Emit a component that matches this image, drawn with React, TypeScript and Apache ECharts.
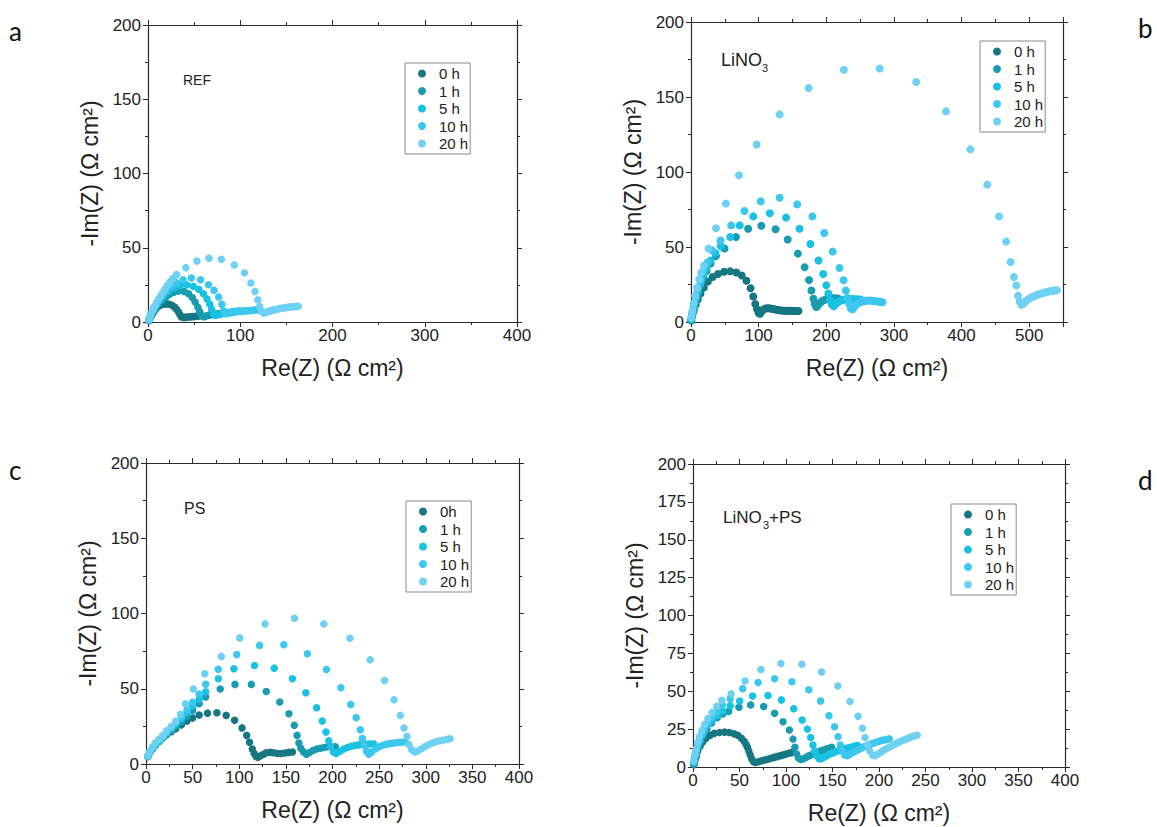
import React, { useEffect, useRef } from "react";
import * as echarts from "echarts";

// ---------- shared labels ----------
const namesStd = ["0 h", "1 h", "5 h", "10 h", "20 h"];
const namesPS = ["0h", "1 h", "5 h", "10 h", "20 h"];
const seriesColors = ["#167783", "#1a9cb0", "#19c1e3", "#3cc7ee", "#6fd1f2"];
const xTitle = "Re(Z) (Ω cm²)";
const yTitle = "-Im(Z) (Ω cm²)";

// ---------- panel a : REF ----------
const aH0 = [[1,0.8],[2,2.5],[4,4.5],[6,6.5],[8,8.5],[11,10.3],[14,11.5],[17,12],[20,12.2],[23,12],[26,11.2],[29,10],[31,8.5],[33,6.8],[34.5,5],[36,3.6],[38,3],[40,3.1],[42,3.3],[44,3.4],[46,3.5],[48,3.6],[50,3.7],[52,3.8],[54,4],[56,4.2]];
const aH1 = [[1,1.2],[3,4],[5,6.5],[8,9.5],[11,12],[15,14.5],[19,16.5],[23,18.5],[28,20],[33,20.8],[39,20.5],[44,19],[48,16.5],[51,13.5],[54,10],[56,7],[58,4.5],[60,3.5],[62,3.8],[64,4.2],[66,4.5],[68,4.8],[70,5],[72,5.2],[74,5.4],[76,5.5],[78,5.6],[80,5.7]];
const aH5 = [[1,1.5],[3,4.5],[6,8],[9,11],[13,14.5],[17,17.5],[22,20.5],[28,23],[35,24.5],[42,25],[49,24],[55,22],[60,19],[64,15.5],[67,12],[69,8.5],[71,5.5],[73,4.5],[75,4.8],[77,5.1],[79,5.4],[81,5.7],[83,6],[85,6.2],[87,6.4],[89,6.6],[91,6.8],[93,7],[95,7.1],[97,7.2],[99,7.3]];
const aH10 = [[1,2],[3,5.5],[6,9.5],[10,13.5],[14,17],[19,20.5],[25,24],[31,26.5],[38,28.5],[47,29.6],[57,28.5],[65.5,25.1],[71.5,21.3],[76.5,16.8],[80,12],[82,7.5],[84,5.5],[86,5.7],[88,6],[90,6.3],[92,6.5],[94,6.7],[96,6.9],[98,7.1],[100,7.2],[102,7.3],[104,7.4],[106,7.5],[108,7.6],[110,7.7],[112,7.8],[114,7.9],[116,8],[118,8.1],[120,8.2]];
const aH20 = [[1,1.5],[2.2,3.8],[4,6.2],[5.8,8.5],[7.5,10.8],[9.4,13],[11.5,15.3],[13.7,17.5],[16,19.8],[18.4,22],[21,24.5],[23.8,27],[27,29.5],[31,32],[41,36.6],[53,41],[66,43],[79.5,42.2],[93.5,38.4],[104.5,33.2],[111.5,26.3],[116,20.6],[119,15],[121,10.5],[123,7.5],[125,6],[127,6.3],[129,6.8],[131,7.2],[133,7.6],[135,8],[137,8.3],[139,8.6],[141,8.9],[143,9.1],[145,9.3],[147,9.5],[149,9.7],[151,9.9],[153,10],[155,10.2],[157,10.3],[159,10.4],[161,10.5],[163,10.6]];

// ---------- panel b : LiNO3 ----------
const bH0 = [[0.5,1],[2,4],[4,7.5],[7,11.5],[10,15],[14,19],[19,23],[25,27],[32,30],[40,32],[49,33.5],[58,33.8],[67,33],[75,31],[82,27.5],[88,22.5],[92,17],[95,12],[97.5,8.5],[100,6],[102,5.5],[104,6.8],[106,8],[109,8.8],[112,9.2],[115,9.2],[118,9],[121,8.7],[124,8.4],[127,8.1],[130,7.9],[133,7.7],[136,7.6],[139,7.5],[142,7.5],[145,7.4],[148,7.4],[151,7.4],[154,7.3],[157,7.3],[159,7.3]];
const bH1 = [[0.5,1.5],[2,5],[4,9],[7,14],[10,19],[14,24],[18,29],[23,34],[29,39],[37,44],[49.5,49],[66.5,56.7],[84.5,62.2],[104,64.2],[125,61.8],[143,55],[158,45.6],[168,36.5],[174.5,28],[178,21],[181,15.5],[183,12],[185,10],[187,10.5],[189,12],[191,13],[194,14],[197,14.7],[200,15.2],[203,15.5],[206,15.7],[209,15.8],[212,15.8],[215,15.7],[218,15.6]];
const bH5 = [[0.5,2],[2,5.5],[4,10],[7,15.5],[10,20.5],[14,26],[18,31],[23,36],[29,41],[36,46],[44,50.5],[58,56.7],[72,64.4],[92,70.4],[116.5,72.5],[140.5,69.6],[160.5,62.2],[176.5,52],[188.5,41],[195.5,32],[200,24.5],[203,19],[206,14.5],[208.5,11.5],[211,10.5],[213,11.5],[215,12.5],[218,13.5],[221,14.2],[224,14.7],[227,15],[230,15.2],[233,15.3],[236,15.3],[239,15.3],[242,15.2],[245,15.1],[248,15],[251,14.9]];
const bH10 = [[0.5,2.5],[2,6.5],[4,11],[7,17],[10,22.5],[14,28],[19,34],[24,39.5],[30.7,47.8],[43.6,54.4],[59.4,64.4],[79,74],[103,80.4],[131,82.8],[157,78.4],[179.5,70.4],[197,59.3],[209.5,47],[219.5,36],[225.5,27.8],[229,21],[231.5,16],[234,12],[236.5,9],[239,8.5],[241.5,10],[244,11.5],[247,12.5],[250,13.2],[253,13.7],[256,14],[259,14.2],[262,14.3],[265,14.3],[268,14.2],[271,14],[274,13.8],[277,13.6],[280,13.4],[283,13.2]];
const bH20 = [[0.5,3],[2,7.5],[4,12.5],[6,17.5],[9,23],[12,28.5],[15,33],[19,37.5],[26,48.9],[37,62.5],[51.5,79],[71,97.8],[97,118.3],[131,138.4],[174,156],[226,168.2],[279,169],[333,160],[377,140.4],[413,115.1],[438,91.6],[455.5,70.4],[466,53.6],[472.5,40],[477.5,30],[481,24.4],[483.5,17.5],[486,13.5],[488.5,11.5],[491,12],[494,13.5],[497,14.6],[500,15.5],[503,16.3],[506,17],[509,17.6],[512,18.1],[515,18.6],[518,19],[521,19.4],[524,19.8],[527,20.1],[530,20.4],[533,20.7],[536,20.9],[539,21.1],[541,21.2]];

// ---------- panel c : PS ----------
const cH0 = [[2,5],[4,7.5],[7,10],[10,12.5],[14,15],[18,17.5],[22,19.5],[27,21.5],[32,23.5],[38,26],[44,28.5],[50,30.5],[57,32.5],[66,33.8],[76,34.1],[86,32.3],[95,29],[103,24],[108,19],[111,14.5],[114,10],[116,7],[118,5],[120,4.5],[123,5.5],[126,6.5],[129,7.5],[133,7.8],[137,7.5],[141,7],[145,7],[149,7.3],[153,7.7],[157,8]];
const cH1 = [[2,5],[4,7.5],[7,10],[10,12.5],[14,15],[18,17.5],[22,20],[27,22.5],[32,25],[38,28],[44,31.5],[50,35.5],[57,40],[64,44.5],[79.6,49.8],[95.4,52.9],[113,52.9],[129,48.2],[143.4,41.2],[153.3,33.4],[159,25.7],[162,19],[164,14],[166,10.5],[169,8],[172,6.5],[175,7.5],[179,9],[183,10],[187,10.5],[191,11],[195,11.5],[199,11.5],[203,11.5]];
const cH5 = [[2,5.5],[4,8],[7,10.5],[10,13],[14,15.5],[18,18],[22,20.5],[27,23.5],[32,26.5],[38,30],[44,34],[50,38.5],[57,43],[64,48],[77.6,56.6],[94.2,63.3],[116.3,65.5],[137.5,63.7],[157,56.6],[171.4,47.3],[183,37.4],[189,28.5],[193,21.2],[196,15.5],[198,11.5],[201,8],[204,7],[208,8.5],[212,10],[216,11],[220,11.8],[224,12.3],[228,12.7],[232,13],[236,13.2],[240,13.3],[244,13.4]];
const cH10 = [[2,5.5],[4,8],[7,11],[10,13.5],[14,16],[18,18.5],[22,21],[27,24],[32,27.5],[38,31.5],[44,36],[50,41],[57,46.5],[64,53],[77.6,63],[97.3,72.8],[121.8,78.8],[147.8,79.2],[173,73.2],[193.5,62.8],[209,50.7],[219.5,39.6],[225.4,30.8],[229.8,22.8],[232,17],[234,12.5],[236.5,8.5],[239,6.5],[242,8],[246,10],[250,11.5],[254,12.5],[258,13.2],[262,13.7],[266,14],[270,14.3],[274,14.5],[278,14.7]];
const cH20 = [[2,5.5],[4,8.5],[7,11.5],[10,14],[14,16.5],[18,19],[22,22],[27,25],[32,28.5],[37,33],[42.2,40],[50.8,49.8],[63,60],[80.8,71.5],[100.5,83.8],[127.7,93.1],[159.2,96.9],[190.7,93.1],[218.7,83.6],[240.4,69.2],[255.8,55.5],[266,42.7],[272.7,32.3],[276.7,23.9],[279.8,18.4],[282,13],[285,9.5],[288,8],[291,8.5],[295,10],[299,11.5],[303,12.8],[307,13.9],[311,14.8],[315,15.5],[319,16],[323,16.5],[326,16.8]];

// ---------- panel d : LiNO3+PS ----------
const dH0 = [[1,1.5],[2,4],[3.5,7],[5,10.5],[7.5,13.5],[10.5,16.5],[14,19],[18.5,21],[23,22.2],[28.5,22.8],[34,23],[39,22.8],[44,22],[48,21],[52,19],[55,17],[57,15],[58.5,13],[60,10.5],[61.5,8],[63,5.5],[65,3.5],[67,3],[70,3.5],[73,4],[76,4.5],[79,5],[82,5.5],[85,6],[88,6.5],[91,7],[94,7.5],[97,8],[100,8.5],[103,9],[106,9.5]];
const dH1 = [[1,2],[2,5],[3.5,9],[5.5,13],[8,17],[11,21],[15,25],[20,29],[26,32.5],[32,35],[38.3,36.6],[49.4,39.5],[62,41],[76,39.9],[87.7,35.5],[96.8,29.9],[103.6,24.4],[107.5,18.4],[109.5,13],[111.5,8.5],[113.5,6],[116,5],[119,5.5],[122,6.5],[125,7.5],[128,8.3],[131,9],[134,9.8],[137,10.5],[140,11.2],[143,11.8],[146,12.4],[149,13]];
const dH5 = [[0.8,3],[2,7],[3.5,10.5],[5,14],[7,17.5],[9.5,21],[12.5,24.5],[16,28],[20.5,31],[26,34],[32,37],[40,40.5],[50.2,43.5],[64,46.8],[80.6,47.2],[95,44.3],[108.3,38.4],[117.4,31],[123,25],[126.5,19.5],[129,14.5],[131,10.5],[133,7.5],[135.5,5.5],[138,5.5],[141,6.5],[144,7.5],[147,8.5],[150,9.3],[153,10],[156,10.7],[159,11.3],[162,11.9],[165,12.4],[168,12.9],[171,13.4],[174,13.8],[177,14.2]];
const dH10 = [[0.8,3.5],[2,7.5],[3.5,11],[5,14.5],[7,18],[9.5,22],[12.5,26],[16,29.5],[20.5,33],[26,36.5],[31.6,41],[40,45],[53.4,51.7],[70,55.7],[87.7,58.3],[106.3,56.3],[124.5,51],[137.2,43.5],[146.2,33.9],[152.2,26.6],[156,20],[158.5,14.5],[160.5,10.5],[163,8],[166,7.5],[169,8.5],[172,9.5],[175,10.5],[178,11.5],[181,12.5],[184,13.3],[187,14],[190,14.8],[193,15.5],[196,16.2],[199,16.8],[202,17.3],[205,17.8],[208,18.2],[211,18.6]];
const dH20 = [[0.8,4],[2,8],[3.5,12],[5,16],[7,20],[9.5,24],[12.5,28],[16,32],[20.5,36],[25.5,40],[31,44],[41,48.3],[56,56.8],[73,64.3],[94.5,68.3],[117,67.8],[138.3,62.7],[155.7,53.4],[168.8,43.2],[177.5,33.5],[182.2,25.5],[185,19.5],[187.5,14.5],[190,10.5],[193,8],[196,7.5],[199,8.5],[202,9.8],[205,11],[208,12],[211,13],[214,14],[217,15],[220,16],[223,16.8],[226,17.6],[229,18.4],[232,19.2],[235,19.9],[238,20.5],[241,21]];

// ---------- axis ranges ----------
const xMaxes = [400, 550, 400, 400];
const xSteps = [100, 100, 50, 50];
const yMax = 200;
const ySteps = [50, 50, 50, 25];

// ---------- layout (pixels) ----------
const panels = [
  { grid: { left: 148, top: 25, width: 369, height: 297 }, names: namesStd, data: [aH0, aH1, aH5, aH10, aH20], legend: { left: 405, top: 63 }, dot: 7.5 },
  { grid: { left: 691, top: 22, width: 372, height: 300 }, names: namesStd, data: [bH0, bH1, bH5, bH10, bH20], legend: { left: 980, top: 41 }, dot: 8 },
  { grid: { left: 146, top: 463, width: 373, height: 301 }, names: namesPS, data: [cH0, cH1, cH5, cH10, cH20], legend: { left: 406, top: 501 }, dot: 7.5 },
  { grid: { left: 693, top: 464, width: 372, height: 303 }, names: namesStd, data: [dH0, dH1, dH5, dH10, dH20], legend: { left: 951, top: 504 }, dot: 7.5 },
];

const FONT = "'Liberation Sans', Arial, Helvetica, sans-serif";
const LETTER_FONT = "Lato, 'Open Sans', sans-serif";
const AX = "#2b2b2b";

function buildOption() {
  const grids: any[] = [];
  const xAxes: any[] = [];
  const yAxes: any[] = [];
  const series: any[] = [];
  const legends: any[] = [];

  panels.forEach((p, i) => {
    grids.push({ ...p.grid, containLabel: false });
    const common = {
      type: "value",
      gridIndex: i,
      min: 0,
      axisLine: { show: true, onZero: false, lineStyle: { color: AX, width: 1.2 } },
      axisTick: { show: true, inside: false, length: 5, lineStyle: { color: AX, width: 1 } },
      minorTick: { show: true, splitNumber: 2, length: 3, lineStyle: { color: AX, width: 1 } },
      splitLine: { show: false },
      minorSplitLine: { show: false },
    };
    const xStep = xSteps[i];
    xAxes.push({
      ...common,
      max: xMaxes[i],
      interval: xStep,
      position: "bottom",
      axisLabel: {
        show: true,
        fontSize: 17,
        color: "#222",
        fontFamily: FONT,
        margin: 5,
        formatter: (v: number) => (v % xStep === 0 ? String(v) : ""),
      },
      name: xTitle,
      nameLocation: "middle",
      nameGap: 34,
      nameTextStyle: { fontSize: 23, color: "#222", fontFamily: FONT },
    });
    xAxes.push({
      ...common,
      max: xMaxes[i],
      interval: xStep,
      position: "top",
      axisLabel: { show: false },
    });
    yAxes.push({
      ...common,
      max: yMax,
      interval: ySteps[i],
      position: "left",
      axisLabel: { show: true, fontSize: 17, color: "#222", fontFamily: FONT, margin: 7 },
      name: yTitle,
      nameLocation: "middle",
      nameGap: 47,
      nameTextStyle: { fontSize: 23, color: "#222", fontFamily: FONT },
    });
    yAxes.push({
      ...common,
      max: yMax,
      interval: ySteps[i],
      position: "right",
      axisLabel: { show: false },
    });

    p.data.forEach((d, k) => {
      series.push({
        type: "scatter",
        name: p.names[k],
        xAxisIndex: i * 2,
        yAxisIndex: i * 2,
        data: d,
        symbol: "circle",
        symbolSize: p.dot,
        itemStyle: { color: seriesColors[k], opacity: 1 },
        silent: true,
        emphasis: { disabled: true },
      });
    });

    legends.push({
      data: p.names,
      orient: "vertical",
      left: p.legend.left,
      top: p.legend.top,
      icon: "circle",
      itemWidth: 8,
      itemHeight: 8,
      itemGap: 2.5,
      padding: [3, 2, 3, 13],
      borderColor: "#8a8a8a",
      borderWidth: 1,
      backgroundColor: "#fff",
      selectedMode: false,
      textStyle: { fontSize: 15, color: "#222", fontFamily: FONT, lineHeight: 15, padding: [0, 0, 0, 8] },
    });
  });

  const txt = (x: number, y: number, text: string, size: number, family = FONT, color = "#222") => ({
    type: "text",
    x,
    y,
    silent: true,
    style: { text, fontSize: size, fontFamily: family, fill: color, verticalAlign: "middle", align: "left" },
  });

  const graphic = [
    txt(9, 31, "a", 26, LETTER_FONT, "#111"),
    txt(1138, 28, "b", 26, LETTER_FONT, "#111"),
    txt(9, 470, "c", 26, LETTER_FONT, "#111"),
    txt(1138, 480, "d", 26, LETTER_FONT, "#111"),
    txt(183, 80, "REF", 14),
    txt(721, 60, "LiNO", 18),
    txt(762, 68, "3", 11),
    txt(184, 508, "PS", 16),
    txt(723, 517, "LiNO", 17),
    txt(763, 525, "3", 11),
    txt(769, 517, "+PS", 17),
  ];

  return {
    animation: false,
    backgroundColor: "#fff",
    textStyle: { fontFamily: FONT },
    grid: grids,
    xAxis: xAxes,
    yAxis: yAxes,
    legend: legends,
    series,
    graphic,
  };
}

export default function App() {
  const ref = useRef<HTMLDivElement>(null);
  useEffect(() => {
    if (!ref.current) return;
    const chart = echarts.init(ref.current, null, { renderer: "svg" });
    chart.setOption(buildOption() as any);
    return () => chart.dispose();
  }, []);
  return (
    <div
      ref={ref}
      style={{ position: "fixed", left: 0, top: 0, width: 1157, height: 827, background: "#fff" }}
    />
  );
}
